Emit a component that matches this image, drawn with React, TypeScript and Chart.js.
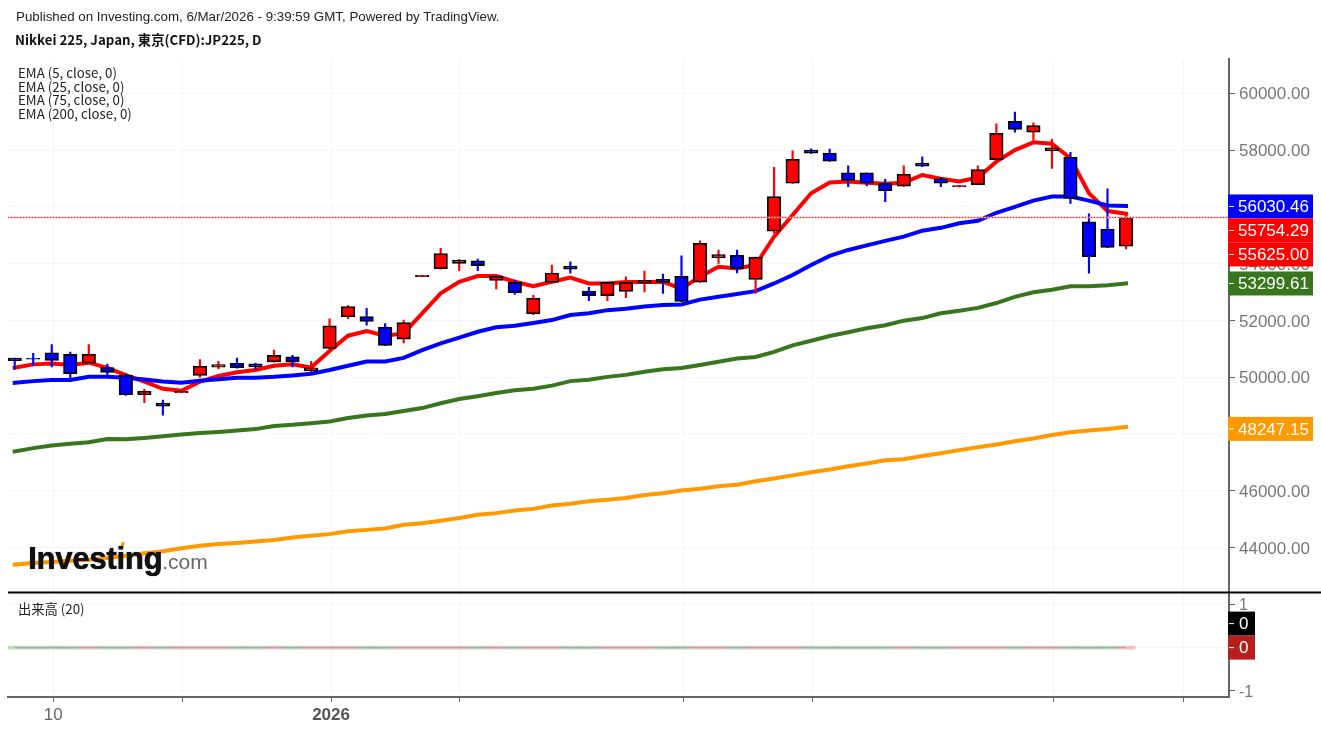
import React, { useEffect, useRef } from 'react';
import { Chart, registerables } from 'chart.js';

Chart.register(...registerables);

// daily candles, one entry per session
const opens = [50670, 50660, 50860, 50800, 50490, 50340, 50070, 49380, 49090, 49450, 50060, 50350, 50490, 50470, 50540, 50720, 50230, 51010, 52120, 52130, 51760, 51340, 53540, 53820, 54010, 54100, 53410, 53340, 52230, 53340, 53910, 53030, 52870, 53020, 53310, 53450, 53560, 53350, 54210, 54290, 53440, 55140, 56830, 58000, 57890, 57200, 57200, 56830, 56730, 57540, 56990, 56700, 56780, 57660, 59010, 58630, 57970, 57750, 55470, 55220, 54610];
const highs = [50670, 50840, 51150, 50880, 51150, 50460, 50110, 49570, 49190, 49500, 50620, 50560, 50670, 50490, 50950, 50770, 50560, 52050, 52520, 52420, 51890, 52010, 53590, 54540, 54150, 54160, 53590, 53420, 52880, 53950, 54060, 53160, 53350, 53530, 53740, 53630, 54270, 54800, 54480, 54480, 54230, 57390, 57970, 58040, 58030, 57440, 57200, 56970, 57440, 57760, 57040, 56750, 57440, 58920, 59340, 58960, 58380, 57920, 55750, 56630, 55770];
const lows = [50280, 50410, 50360, 49900, 50490, 50070, 49360, 49100, 48660, 49450, 49990, 50290, 50320, 50270, 50530, 50360, 50190, 50990, 52060, 51830, 51110, 51210, 53540, 53800, 53750, 53750, 53110, 52910, 52200, 53340, 53660, 52690, 52690, 52800, 53000, 52950, 52660, 53340, 54010, 53670, 52950, 55070, 56820, 57880, 57600, 56710, 56740, 56180, 56720, 57410, 56710, 56700, 56770, 57650, 58630, 58350, 57350, 56120, 53660, 54560, 54520];
const closes = [50580, 50630, 50590, 50120, 50810, 50170, 49380, 49500, 48980, 49500, 50390, 50440, 50330, 50360, 50770, 50540, 50330, 51810, 52490, 51960, 51120, 51920, 53590, 54350, 54120, 53930, 53560, 52980, 52780, 53670, 53800, 52870, 53340, 53340, 53410, 53340, 52670, 54710, 54320, 53820, 54230, 56360, 57670, 57890, 57610, 56930, 56830, 56570, 57150, 57430, 56830, 56750, 57310, 58590, 58730, 58860, 58080, 56300, 54240, 54570, 55625];

const ema5 = [50330, 50450, 50480, 50430, 50510, 50330, 50070, 49840, 49590, 49520, 49840, 50040, 50170, 50250, 50400, 50450, 50340, 50920, 51460, 51620, 51460, 51540, 52250, 52950, 53360, 53560, 53560, 53360, 53200, 53360, 53510, 53300, 53300, 53350, 53350, 53360, 53120, 53540, 53890, 53830, 53950, 54950, 55710, 56480, 56860, 56890, 56850, 56810, 56850, 57120, 56990, 56890, 57030, 57590, 58000, 58270, 58220, 57710, 56480, 55850, 55754.29];
const ema25 = [49800, 49860, 49900, 49900, 50010, 50010, 49980, 49920, 49850, 49800, 49870, 49930, 49980, 49980, 50010, 50060, 50120, 50250, 50400, 50550, 50550, 50680, 50950, 51190, 51390, 51600, 51760, 51810, 51910, 52010, 52190, 52250, 52360, 52410, 52490, 52540, 52560, 52730, 52830, 52930, 53030, 53300, 53600, 53950, 54270, 54480, 54640, 54800, 54950, 55160, 55260, 55420, 55510, 55790, 56000, 56220, 56360, 56360, 56220, 56050, 56030.46];
const ema75 = [47380, 47500, 47590, 47650, 47710, 47820, 47810, 47860, 47920, 47980, 48030, 48070, 48120, 48170, 48280, 48320, 48380, 48440, 48560, 48650, 48700, 48810, 48910, 49080, 49230, 49330, 49440, 49540, 49590, 49700, 49860, 49910, 50010, 50080, 50190, 50280, 50320, 50430, 50540, 50660, 50710, 50890, 51120, 51280, 51450, 51580, 51720, 51830, 51990, 52080, 52250, 52340, 52440, 52610, 52830, 52990, 53080, 53200, 53200, 53240, 53299.61];
const ema200 = [43400, 43450, 43490, 43530, 43570, 43630, 43710, 43800, 43870, 43970, 44060, 44120, 44160, 44210, 44260, 44350, 44410, 44470, 44570, 44620, 44670, 44800, 44850, 44940, 45040, 45150, 45210, 45300, 45360, 45480, 45540, 45630, 45680, 45740, 45850, 45910, 46010, 46070, 46160, 46210, 46330, 46430, 46540, 46650, 46750, 46860, 46960, 47070, 47110, 47220, 47320, 47430, 47530, 47630, 47740, 47840, 47960, 48060, 48120, 48170, 48247.15];

// the volume pane really is all zeros for this CFD
const volumes = opens.map(() => 0);

const priceTicks = [44000, 46000, 48000, 50000, 52000, 54000, 56000, 58000, 60000];
const volumeTicks = [-1, 0, 1];
const dateTickAt = [2.08, 9.07, 17.08, 24.04, 36.1, 43.1, 56.1, 63.1];
const dateTickLabels = ['10', '', '2026', '', '', '', '', ''];

const emaLabels = ['EMA (5, close, 0)', 'EMA (25, close, 0)', 'EMA (75, close, 0)', 'EMA (200, close, 0)'];

const RED = '#ff0000';
const BLUE = '#0000ff';
const GREEN = '#38761d';
const ORANGE = '#ff9900';
const GRID = '#f6f6f6';
const AXIS = '#666666';
const SANS = '"Liberation Sans", Arial, sans-serif';
const CJK = '"Noto Sans CJK JP", "Noto Sans", sans-serif';

const last = opens.length - 1;
const up = (i: number) => closes[i] > opens[i];
const fmt = (v: number) => v.toFixed(2);

// price tags on the right edge, pushed apart when they would overlap
const tagsPlugin = {
  id: 'tags',
  afterDraw(chart: any) {
    const { ctx, scales, chartArea } = chart;
    const tags = [
      { v: ema25[last], c: BLUE, nudge: 0.5 },
      { v: ema5[last], c: RED, nudge: 0 },
      { v: closes[last], c: RED, nudge: 0 },
      { v: ema75[last], c: GREEN, nudge: 0 },
      { v: ema200[last], c: ORANGE, nudge: 2 },
    ];
    const h = 24;
    const left = chartArea.right - 1;
    ctx.save();
    ctx.font = '17px ' + SANS;
    ctx.textBaseline = 'middle';
    let prev = -100;
    tags.forEach((t) => {
      let y = scales.y.getPixelForValue(t.v) + t.nudge;
      if (y < prev + h) y = prev + h;
      prev = y;
      ctx.fillStyle = t.c;
      ctx.fillRect(left, y - h / 2, 85, h);
      ctx.fillStyle = '#fff';
      ctx.fillRect(left + 1, y - 0.5, 5, 1);
      ctx.fillText(fmt(t.v), left + 10, y + 1);
    });

    // volume pane tags, both sit on zero
    const y0 = scales.yVol.getPixelForValue(0);
    [{ c: '#000000', y: y0 - 24 }, { c: '#b71f1f', y: y0 }].forEach((t) => {
      ctx.fillStyle = t.c;
      ctx.fillRect(left, t.y - h / 2, 27, h);
      ctx.fillStyle = '#fff';
      ctx.fillRect(left + 1, t.y - 0.5, 5, 1);
      ctx.fillText('0', left + 11, t.y + 1);
    });

    // pane separator runs to the page edge
    const sep = scales.y.bottom;
    ctx.fillStyle = '#000';
    ctx.fillRect(chartArea.left, sep - 1, chart.width - chartArea.left, 2);
    ctx.restore();
  },
};

const emaDataset = (values: number[], color: string) => ({
  type: 'line',
  data: values.map((y, x) => ({ x, y })),
  borderColor: color,
  borderWidth: 4,
  borderCapStyle: 'square',
  pointRadius: 0,
  tension: 0,
  yAxisID: 'y',
  order: 5,
});

const App: React.FC = () => {
  const canvasRef = useRef<HTMLCanvasElement | null>(null);

  useEffect(() => {
    if (!canvasRef.current) return;
    const xMin = -0.362;
    const xMax = 65.56;
    const lastPriceLine = [{ x: xMin, y: closes[last] }, { x: xMax, y: closes[last] }];

    const chart = new Chart(canvasRef.current, {
      type: 'bar',
      data: {
        datasets: [
          emaDataset(ema200, ORANGE),
          emaDataset(ema75, GREEN),
          emaDataset(ema25, BLUE),
          emaDataset(ema5, RED),
          // wicks
          {
            data: opens.map((_, i) => ({ x: i, y: [lows[i], highs[i]] })),
            backgroundColor: opens.map((_, i) => (up(i) ? RED : BLUE)),
            barThickness: 1.5,
            grouped: false,
            yAxisID: 'y',
            order: 3,
          },
          // bodies
          {
            data: opens.map((o, i) => ({ x: i, y: [o, closes[i]] })),
            backgroundColor: opens.map((_, i) => (up(i) ? RED : BLUE)),
            borderColor: '#000',
            borderWidth: 1.7,
            borderSkipped: false,
            barThickness: 13.5,
            grouped: false,
            yAxisID: 'y',
            order: 2,
          },
          // last price: pale band under the dots
          {
            type: 'line',
            data: lastPriceLine,
            borderColor: '#ffa8a8',
            borderWidth: 1.5,
            pointRadius: 0,
            yAxisID: 'y',
            order: 1,
          },
          {
            type: 'line',
            data: lastPriceLine,
            borderColor: RED,
            borderWidth: 1,
            borderDash: [1, 2],
            pointRadius: 0,
            yAxisID: 'y',
            order: 0,
          },
          // volume
          {
            data: volumes.map((y, x) => ({ x, y })),
            backgroundColor: opens.map((_, i) => (up(i) ? 'rgba(255,0,0,0.25)' : 'rgba(0,128,0,0.25)')),
            barThickness: 18,
            minBarLength: 3,
            grouped: false,
            yAxisID: 'yVol',
            order: 6,
          },
          // volume average, one session shorter than the bars
          {
            type: 'line',
            data: volumes.slice(0, last).map((y, x) => ({ x, y })).concat({ x: last, y: 0 }),
            borderColor: '#aaaaaa',
            borderWidth: 1.5,
            pointRadius: 0,
            yAxisID: 'yVol',
            order: 4,
          },
        ] as any,
      },
      options: {
        responsive: false,
        animation: false,
        devicePixelRatio: 1,
        layout: { padding: { left: 8, top: 59, right: 0, bottom: 0 } },
        plugins: { legend: { display: false }, tooltip: { enabled: false } },
        scales: {
          x: {
            type: 'linear',
            min: xMin,
            max: xMax,
            offset: false,
            afterFit: (s: any) => { s.height = 33; },
            afterBuildTicks: (s: any) => { s.ticks = dateTickAt.map((value) => ({ value })); },
            grid: { color: GRID, offset: false, tickColor: AXIS, tickLength: 5 },
            border: { color: AXIS, width: 2 },
            ticks: {
              autoSkip: false,
              maxRotation: 0,
              padding: 3,
              color: (c: any) => (c.index === 2 ? '#555555' : '#666666'),
              font: (c: any) => ({ family: SANS, size: 17, weight: c.index === 2 ? 'bold' : 'normal' }),
              callback: (_v: any, i: number) => dateTickLabels[i],
            },
          },
          y: {
            position: 'right',
            stack: 'panes',
            stackWeight: 533.5,
            min: 42414,
            max: 61207,
            afterFit: (s: any) => { s.width = 92; },
            afterBuildTicks: (s: any) => { s.ticks = priceTicks.map((value) => ({ value })); },
            grid: { color: GRID, tickColor: AXIS, tickLength: 6 },
            border: { color: AXIS, width: 2 },
            ticks: {
              padding: 4,
              labelOffset: 1.5,
              color: '#777777',
              font: { family: SANS, size: 17 },
              callback: (v: any) => fmt(Number(v)),
            },
          },
          yVol: {
            position: 'right',
            stack: 'panes',
            stackWeight: 104.5,
            min: -1.147,
            max: 1.28,
            afterFit: (s: any) => { s.width = 92; },
            afterBuildTicks: (s: any) => { s.ticks = volumeTicks.map((value) => ({ value })); },
            grid: { color: GRID, tickColor: AXIS, tickLength: 6 },
            border: { color: AXIS, width: 2 },
            ticks: {
              padding: 4,
              labelOffset: 1.5,
              color: '#777777',
              font: { family: SANS, size: 16 },
              callback: (v: any) => String(v),
            },
          },
        },
      },
      plugins: [tagsPlugin],
    } as any);

    return () => chart.destroy();
  }, []);

  const abs = (left: number, top: number): React.CSSProperties => ({
    position: 'absolute',
    left,
    top,
    whiteSpace: 'nowrap',
  });

  return (
    <div style={{ position: 'relative', width: 1321, height: 730, overflow: 'hidden', background: '#fff' }}>
      <style>{'body{margin:0;background:#fff}'}</style>
      <canvas ref={canvasRef} width={1321} height={730} style={{ display: 'block' }} />

      <div style={{ ...abs(16, 10), font: '13.33px/14px ' + SANS, color: '#222' }}>
        Published on Investing.com, 6/Mar/2026 - 9:39:59 GMT, Powered by TradingView.
      </div>
      <div style={{ ...abs(15, 32), font: 'bold 13.3px/16px ' + CJK, color: '#111' }}>
        Nikkei 225, Japan, 東京(CFD):JP225, D
      </div>

      {emaLabels.map((t, i) => (
        <div key={t} style={{ ...abs(18, 65 + i * 13.7), font: '13.3px/16px ' + CJK, color: '#222' }}>{t}</div>
      ))}
      <div style={{ ...abs(18, 601), font: '13.3px/16px ' + CJK, color: '#222' }}>出来高 (20)</div>

      {/* watermark */}
      <div style={{ ...abs(121, 542), width: 3, height: 6, background: ORANGE, transform: 'rotate(15deg)' }} />
      <div style={{ ...abs(28, 541), font: 'bold 31px/36px ' + SANS, letterSpacing: -0.2, color: '#111', textShadow: '0 0 1px #222, 0.4px 0 0 #111' }}>
        Investing
        <span style={{ font: '21px/36px ' + SANS, letterSpacing: 0, color: '#666', textShadow: 'none' }}>.com</span>
      </div>
    </div>
  );
};

export default App;
